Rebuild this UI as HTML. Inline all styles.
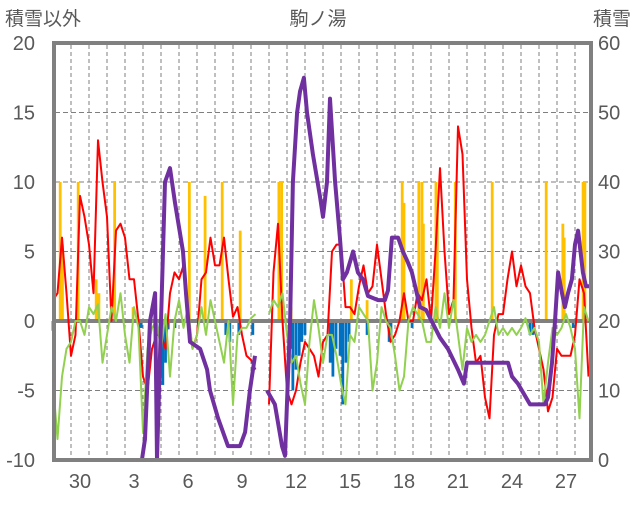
<!DOCTYPE html>
<html><head><meta charset="utf-8"><style>
body{margin:0;background:#fff;width:636px;height:501px;overflow:hidden}
svg text{font-family:"Liberation Sans","Noto Sans CJK JP",sans-serif;fill:#595959}
</style></head><body>
<svg id="c" width="636" height="501" xmlns="http://www.w3.org/2000/svg"></svg>
<script>
const dayLabels=["30","3","6","9","12","15","18","21","24","27"];
const dayLabelIdx=[2,5,8,11,14,17,20,23,26,29];
const leftTicks=[-10,-5,0,5,10,15,20];
const rightTicks=[0,10,20,30,40,50,60];
// 3-hour sampled series (index k), left axis units
const redV=[1.5,2,6,2,-2.5,-1,9,7.5,5.5,2,13,10,7.5,0,6.5,7,6,3,3,0,-4,-5,-2,-1,-1,-2,2,3.5,3,4,0.5,-2,-1,3,3.5,6,4,4,6,3,0.3,1,-1,-2.5,-2.8,-3.5,null,null,-6,3.5,7,0,-5,-6,-5,-3,-1.5,-2,-2.5,-4,-1.5,-1,5,5.5,5.5,1,1,0.5,2.5,4,2,2.5,5.5,3,0.5,-1.5,-1,0,2,0,0,2,1.5,3,0,5,11,5,0.5,1.5,14,12,3,-0.5,-3,-2.5,-5.5,-7,-1,0.5,0.5,3,5,2.5,4,2.5,2,-0.5,-2,-3.5,-6.5,-5.5,-2,-2.5,-2.5,-2.5,-1,3,2,-4];
const greenV=[-4.5,-8.5,-4,-2,-1.5,0,0,-1,1,0.5,1.2,-3,-1,1,0,2,-1,-3,1,-0.5,-8,-2,-0.5,0,-2,0.5,-4,0,1.5,-0.5,1,-2,-1,1,-1,1.5,0,-1.5,-3,0,-6,-1,-0.5,-0.5,0.2,0.5,null,null,0.5,1.5,1,2,-1,-3,-2.5,-4.5,-6,-1.5,1.5,-0.5,-3,-1,-1,-2.5,-4.5,-6,-1,-1.5,1,0.5,0,-5,-3,1,0,-0.5,-2.5,-5,-4,0,1,0.5,0,-1.5,-1.5,1,-0.5,2,-0.5,1.5,-1,-3.5,-0.5,-1.5,-1,-1.5,-1,0,1,-1,-0.5,-1,-0.5,-1,-0.5,0.2,-1,-0.5,-1.5,-6,-3,-0.5,-1,-0.5,0.5,-0.5,-2,-7,1,0];
const orangeK=[1.6,2.1,5.6,9.6,10.2,13.7,17.8,24,30.3,33.8,37.6,41.6,50.2,50.8,52.9,66.3,69.8,77.6,78,81.3,82,82.3,85.1,85.4,89.4,97.6,109.6,113.3,113.6,117.8,118.2];
const orangeV=[10,5.5,10,3,2,10,1,1,10,9,10,6.5,10,10,1,3,1.5,10,8.5,10,10,7,10,8,10,10,10,7,6,10,10];
const blueK=[0,19.6,23.8,24.4,25,25.6,27.1,38.4,39.3,41.3,44.4,52.9,53.3,54,54.7,55.3,56,61.6,62.2,62.9,63.8,64.4,65.1,65.8,69.8,74.7,75.1,79.8,106,106.7,115.6];
const blueV=[-0.7,-0.5,-2,-4.6,-3,-0.6,-0.5,-1,-1.5,-1,-1,-2,-5,-3.5,-2.5,-1.5,-1,-3,-4,-2,-2.5,-6,-3,-1.5,-1,-1.5,-1,-0.5,-1,-1,-0.5];
// snow depth (right axis), time in days from start
const snowT=[0,4.17,4.94,5.11,5.39,5.67,5.78,6.22,6.5,6.78,7.22,7.39,7.61,8.17,8.56,8.72,9.17,9.72,10.39,10.67,10.94,11.22,null,11.89,12.33,12.72,12.89,13.17,13.33,13.56,13.72,13.94,14.11,14.44,14.83,15,15.22,15.39,15.67,15.94,16.11,16.33,16.67,16.94,17.22,17.5,18.06,18.44,18.61,18.83,19.17,19.44,19.72,19.94,20.39,20.72,21.5,21.94,22.5,22.83,23,25.28,25.5,25.83,26.5,27.33,27.5,27.72,27.89,28.06,28.28,28.44,28.61,28.83,29,29.17,29.44,29.61,29.89];
const snowV=[0,0,0,3,20,24,0,40,42,37,30,24,17,16,13,10,6,2,2,4,10,15,null,10,8,2,0.6,20,40,50,53,55,50,44,38,35,40,52,40,32,26,27,30,27,26,23.6,23,23,24.4,32,32,30,28.4,27,22,21.6,17.6,16,13,11,14,14,12,11,8,8,9,14,20,27,24,22,24,26,31,33,27,25,25];

const NS='http://www.w3.org/2000/svg';
const svg=document.getElementById('c');
const X0=53,DAY=18,Y0=321,PU=13.9;
const xd=d=>X0+d*DAY;
const xk=k=>X0+k*4.5;
const yl=v=>Y0-v*PU;
const yr=v=>460-v*(417/60);
function mk(tag,attrs,parent){const e=document.createElementNS(NS,tag);for(const a in attrs)e.setAttribute(a,attrs[a]);(parent||svg).appendChild(e);return e;}

const grid=mk('g',{});


for(let d=1;d<30;d++){mk('line',{x1:xd(d),x2:xd(d),y1:45,y2:458,stroke:'#7f7f7f','stroke-width':1,'stroke-dasharray':'4,3'},grid);}
[5,10,15,-5].forEach(v=>mk('line',{x1:55,x2:589,y1:yl(v),y2:yl(v),stroke:'#7f7f7f','stroke-width':1,'stroke-dasharray':'5,3'},grid));

const bars=mk('g',{});


orangeK.forEach((k,i)=>{const r=mk('rect',{x:xk(k)-1.4,width:2.8,y:yl(orangeV[i]),height:yl(0)-yl(orangeV[i]),fill:'#ffc000'},bars);

});
blueK.forEach((k,i)=>{const r=mk('rect',{x:xk(k)-1.4,width:2.8,y:yl(0),height:yl(blueV[i])-yl(0),fill:'#0070c0'},bars);

});

const z=mk('line',{x1:55,x2:589,y1:yl(0),y2:yl(0),stroke:'#808080','stroke-width':4});



function pathFrom(xs,ys){let d='',pen=false;for(let i=0;i<ys.length;i++){if(ys[i]===null||xs[i]===null){pen=false;continue;}d+=(pen?'L':'M')+xs[i].toFixed(1)+' '+ys[i].toFixed(1);pen=true;}return d;}
const red=mk('path',{d:pathFrom(redV.map((v,k)=>xk(k)),redV.map(v=>v===null?null:yl(v))),fill:'none',stroke:'#ff0000','stroke-width':2,'stroke-linejoin':'round'});


const green=mk('path',{d:pathFrom(greenV.map((v,k)=>xk(k)),greenV.map(v=>v===null?null:yl(v))),fill:'none',stroke:'#92d050','stroke-width':2,'stroke-linejoin':'round'});


const snow=mk('path',{d:pathFrom(snowT.map(t=>t===null?null:xd(t)),snowV.map(v=>v===null?null:yr(v))),fill:'none',stroke:'#7030a0','stroke-width':4,'stroke-linejoin':'round'});



const b=mk('rect',{x:54,y:43,width:537,height:417,fill:'none',stroke:'#808080','stroke-width':4});



leftTicks.forEach(v=>{const t=mk('text',{x:35,y:yl(v)+7,'text-anchor':'end','font-size':20});t.textContent=v;

});
rightTicks.forEach(v=>{const t=mk('text',{x:598,y:yr(v)+7,'font-size':20});t.textContent=v;

});
dayLabels.forEach((s,i)=>{const t=mk('text',{x:xd(dayLabelIdx[i]-0.5),y:488,'text-anchor':'middle','font-size':20});t.textContent=s;

});
</script>
<div style="position:absolute;left:0;top:0">
<svg width="636" height="40" style="position:absolute;left:0;top:0">
<text x="5" y="25" font-size="19">積雪以外</text>
<text x="318" y="25" font-size="19" text-anchor="middle">駒ノ湯</text>
<text x="631" y="25" font-size="19" text-anchor="end">積雪</text>
</svg></div>
</body></html>
